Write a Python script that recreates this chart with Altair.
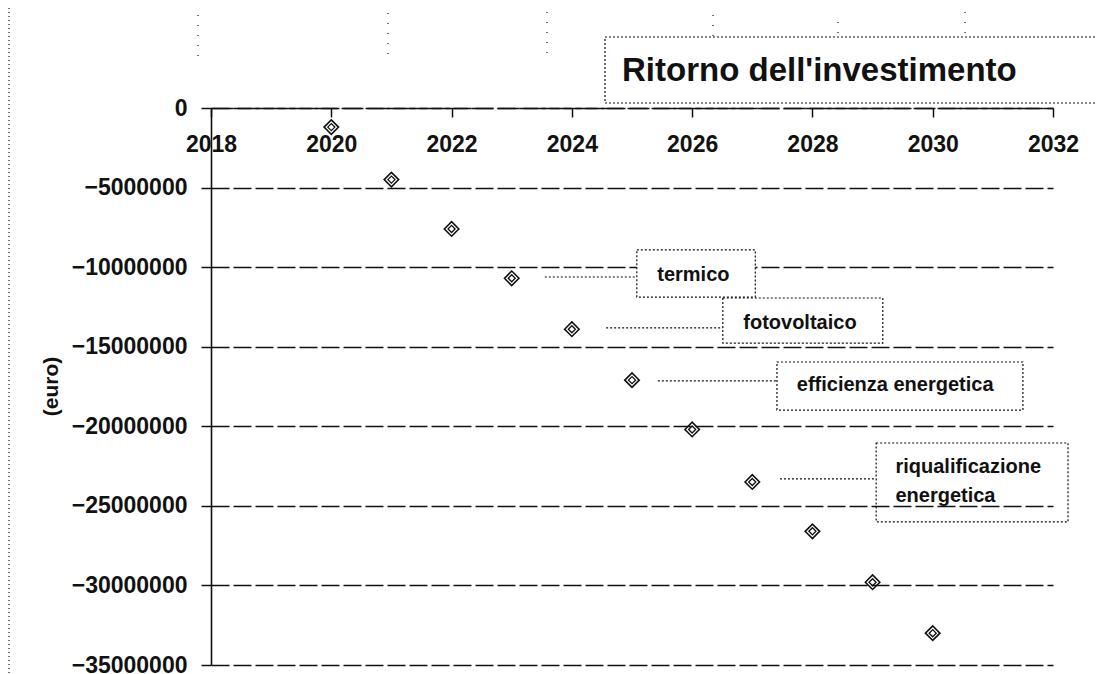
import altair as alt
import pandas as pd

# ---------------- data ----------------
years = [2020, 2021, 2022, 2023, 2024, 2025, 2026, 2027, 2028, 2029, 2030]
returns_eur = [-1200000, -4500000, -7600000, -10700000, -13900000, -17100000,
               -20200000, -23500000, -26600000, -29800000, -33000000]
x_tick_values = [2018, 2020, 2022, 2024, 2026, 2028, 2030, 2032]
y_tick_values = [0, -5000000, -10000000, -15000000, -20000000,
                 -25000000, -30000000, -35000000]
title_text = "Ritorno dell'investimento"
y_title = "(euro)"
text_lines = ["termico", "fotovoltaico", "efficienza energetica",
              "riqualificazione", "energetica"]

# ---------------- annotation layout (in data units) ----------------
box_x = [2025.08, 2026.51, 2027.41, 2029.06]
box_x2 = [2027.05, 2029.17, 2031.50, 2032.25]
box_y = [-8.92e6, -11.94e6, -15.96e6, -21.05e6]
box_y2 = [-11.88e6, -14.77e6, -18.98e6, -26.01e6]
box_fill = [1, 1, 1, 0]
leader_x = [2023.55, 2024.57, 2025.43, 2027.46]
leader_x2 = box_x
leader_y = [-10.62e6, -13.82e6, -17.15e6, -23.31e6]
text_x = [2025.42, 2026.85, 2027.74, 2029.38, 2029.38]
text_y = [-10.49e6, -13.51e6, -17.41e6, -22.56e6, -24.38e6]

# faint dotted scan marks above the plot (pixel offsets from plot origin)
mark_px_x = [-13, 177, 336, 502, 627, 754]
mark_px_y = [-93, -95, -96, -93, -86, -96]
mark_px_y2 = [-46, -50, -46, -53, -48, -53]

FONT = "Liberation Sans"
INK = "#111111"

points = pd.DataFrame({"anno": years, "valore": returns_eur})
boxes = pd.DataFrame({"x": box_x, "x2": box_x2, "y": box_y, "y2": box_y2, "f": box_fill})
leaders = pd.DataFrame({"x": leader_x, "x2": leader_x2, "y": leader_y})
texts = pd.DataFrame({"x": text_x, "y": text_y, "t": text_lines})
one = pd.DataFrame({"k": [0]})

xscale = alt.Scale(domain=[2018, 2032], nice=False, zero=False)
yscale = alt.Scale(domain=[-35000000, 0], nice=False, zero=False)

x_axis = alt.Axis(
    values=x_tick_values, format="d", title=None, orient="bottom", offset=-557,
    grid=False, domainColor=INK, domainWidth=1.6, domainDash=[22, 4],
    tickColor=INK, tickSize=9, tickWidth=1.5,
    labelFont=FONT, labelFontSize=23, labelFontWeight="bold", labelColor=INK,
    labelPadding=16, labelFlush=False, labelOverlap=False,
)
y_axis = alt.Axis(
    values=y_tick_values, format="d", title=y_title,
    grid=True, gridColor=INK, gridWidth=1.3, gridDash=[18, 4],
    domainColor=INK, domainWidth=1.6, tickColor=INK, tickSize=10, tickWidth=1.5,
    labelFont=FONT, labelFontSize=23, labelFontWeight="bold", labelColor=INK,
    labelPadding=14, labelFlush=False, labelOverlap=False,
    titleFont=FONT, titleFontSize=21, titleFontWeight="bold", titleColor=INK,
    titleX=-160, titleY=278, titleAngle=270, titleAlign="center",
    titleBaseline="middle",
)

base_pts = alt.Chart(points).encode(
    x=alt.X("anno:Q", scale=xscale, axis=x_axis),
    y=alt.Y("valore:Q", scale=yscale, axis=y_axis),
)
outer = base_pts.mark_point(shape="diamond", filled=False, size=210,
                            stroke=INK, strokeWidth=1.6, opacity=1)
inner = base_pts.mark_point(shape="diamond", filled=False, size=50,
                            stroke=INK, strokeWidth=1.3, opacity=1)

box_layer = alt.Chart(boxes).mark_rect(
    stroke=INK, strokeWidth=1.2, strokeDash=[2, 2]
).encode(
    x=alt.X("x:Q", scale=xscale), x2="x2:Q",
    y=alt.Y("y:Q", scale=yscale), y2="y2:Q",
    fill=alt.value("white"),
    fillOpacity=alt.FillOpacity("f:Q", legend=None, scale=alt.Scale(domain=[0, 1], range=[0, 1])),
)

leader_layer = alt.Chart(leaders).mark_rule(
    stroke=INK, strokeWidth=1.2, strokeDash=[2, 2]
).encode(
    x=alt.X("x:Q", scale=xscale), x2="x2:Q",
    y=alt.Y("y:Q", scale=yscale),
)

text_layer = alt.Chart(texts).mark_text(
    align="left", baseline="middle", font=FONT, fontSize=20,
    fontWeight="bold", color=INK
).encode(
    x=alt.X("x:Q", scale=xscale), y=alt.Y("y:Q", scale=yscale), text="t:N",
)

title_box = alt.Chart(one).mark_rect(
    fill="white", stroke=INK, strokeWidth=1.2, strokeDash=[2, 2]
).encode(x=alt.value(394), x2=alt.value(920), y=alt.value(-71), y2=alt.value(-5))

title_layer = alt.Chart(one).mark_text(
    align="left", baseline="middle", font=FONT, fontSize=33,
    fontWeight="bold", color=INK
).encode(x=alt.value(411), y=alt.value(-37), text=alt.value(title_text))

border = alt.Chart(one).mark_rule(
    stroke=INK, strokeWidth=1.2, strokeDash=[1, 3]
).encode(x=alt.value(-202), y=alt.value(-100), y2=alt.value(566))

scan_df = pd.DataFrame({"px": mark_px_x, "py": mark_px_y, "py2": mark_px_y2})
scan = alt.Chart(scan_df).mark_rule(
    stroke=INK, strokeWidth=1.2, strokeDash=[1, 9]
).encode(
    x=alt.X("px:Q", scale=None), y=alt.Y("py:Q", scale=None), y2="py2:Q"
)

chart = alt.layer(
    border, scan, title_box, title_layer, leader_layer, box_layer, text_layer, outer, inner
).properties(
    width=842, height=557,
    autosize=alt.AutoSizeParams(type="none"),
    padding={"left": 203, "top": 100, "right": 42, "bottom": 12},
    background="white",
).configure_view(stroke=None)

chart.save("out.html", embed_options={"renderer": "svg", "actions": False})
